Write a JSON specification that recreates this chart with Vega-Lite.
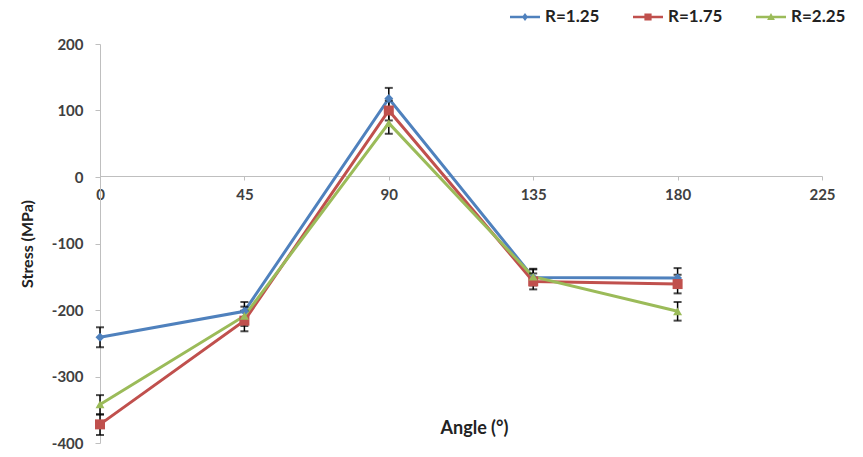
{
  "$schema": "https://vega.github.io/schema/vega-lite/v6.json",
  "autosize": {"type": "none"},
  "padding": {"left": 100, "top": 44, "right": 41, "bottom": 14},
  "width": 722,
  "height": 399,
  "background": "white",
  "config": {
    "view": {"stroke": null},
    "font": "Lato",
    "legend": {
      "title": null,
      "orient": "none",
      "direction": "horizontal",
      "legendX": 410,
      "legendY": -42,
      "symbolSize": 900,
      "symbolOpacity": 1,
      "symbolStrokeWidth": 0,
      "labelFont": "Lato",
      "labelFontWeight": "bold",
      "labelFontSize": 17,
      "labelColor": "#222222",
      "labelOffset": 5,
      "columnPadding": 33
    }
  },
  "data": {
    "values": [
      {"series": "R=1.25", "angle": 0, "stress": -241, "lo": -256, "hi": -226},
      {"series": "R=1.25", "angle": 45, "stress": -202, "lo": -217, "hi": -188},
      {"series": "R=1.25", "angle": 90, "stress": 118, "lo": 103, "hi": 134},
      {"series": "R=1.25", "angle": 135, "stress": -151, "lo": -163, "hi": -139},
      {"series": "R=1.25", "angle": 180, "stress": -152, "lo": -165, "hi": -137},
      {"series": "R=1.75", "angle": 0, "stress": -372, "lo": -388, "hi": -357},
      {"series": "R=1.75", "angle": 45, "stress": -216, "lo": -232, "hi": -201},
      {"series": "R=1.75", "angle": 90, "stress": 100, "lo": 85, "hi": 115},
      {"series": "R=1.75", "angle": 135, "stress": -157, "lo": -169, "hi": -145},
      {"series": "R=1.75", "angle": 180, "stress": -161, "lo": -175, "hi": -147},
      {"series": "R=2.25", "angle": 0, "stress": -342, "lo": -357, "hi": -328},
      {"series": "R=2.25", "angle": 45, "stress": -209, "lo": -224, "hi": -195},
      {"series": "R=2.25", "angle": 90, "stress": 81, "lo": 65, "hi": 96},
      {"series": "R=2.25", "angle": 135, "stress": -150, "lo": -162, "hi": -138},
      {"series": "R=2.25", "angle": 180, "stress": -202, "lo": -216, "hi": -188}
    ]
  },
  "encoding": {
    "x": {
      "field": "angle", "type": "quantitative",
      "scale": {"domain": [0, 225], "nice": false, "zero": false},
      "axis": {
        "offset": -267,
        "values": [0, 45, 90, 135, 180, 225],
        "grid": false,
        "domainColor": "#bfbfbf",
        "domainWidth": 1,
        "tickColor": "#bfbfbf",
        "tickSize": 4,
        "labelPadding": 7,
        "labelFont": "Lato",
        "labelFontWeight": "bold",
        "labelFontSize": 15,
        "labelColor": "#404040",
        "labelFlush": false,
        "title": "Angle (°)",
        "titleFont": "Lato",
        "titleFontWeight": "bold",
        "titleFontSize": 18,
        "titleColor": "#222222",
        "titleX": 374,
        "titleY": 252,
        "titleBaseline": "middle"
      }
    },
    "y": {
      "field": "stress", "type": "quantitative",
      "scale": {"domain": [-400, 200], "nice": false, "zero": false},
      "axis": {
        "values": [-400, -300, -200, -100, 0, 100, 200],
        "labelExpr": "'' + datum.value",
        "grid": false,
        "domainColor": "#bfbfbf",
        "tickColor": "#bfbfbf",
        "tickSize": 5,
        "labelPadding": 12,
        "labelFont": "Lato",
        "labelFontWeight": "bold",
        "labelFontSize": 15,
        "labelColor": "#404040",
        "title": "Stress (MPa)",
        "titleFont": "Lato",
        "titleFontWeight": "bold",
        "titleFontSize": 16,
        "titleColor": "#222222",
        "titlePadding": 16
      }
    },
    "color": {
      "field": "series", "type": "nominal",
      "scale": {"domain": ["R=1.25", "R=1.75", "R=2.25"], "range": ["#4F81BD", "#C0504D", "#9BBB59"]}
    }
  },
  "layer": [
    {
      "mark": {"type": "point", "filled": true, "opacity": 0},
      "encoding": {
        "shape": {
          "field": "series", "type": "nominal",
          "scale": {
            "domain": ["R=1.25", "R=1.75", "R=2.25"],
            "range": [
              "M-1,-0.085H1V0.085H-1Z M0,-0.26L0.2,0L0,0.26L-0.2,0Z",
              "M-1,-0.085H1V0.085H-1Z M-0.24,-0.24H0.24V0.24H-0.24Z",
              "M-1,-0.085H1V0.085H-1Z M0,-0.26L0.26,0.2H-0.26Z"
            ]
          }
        }
      }
    },
    {
      "mark": {"type": "line", "strokeWidth": 3}
    },
    {
      "mark": {"type": "rule", "color": "black", "strokeWidth": 1.5},
      "encoding": {
        "y": {"field": "lo", "type": "quantitative"},
        "y2": {"field": "hi"},
        "color": {"value": "black"}
      }
    },
    {
      "mark": {"type": "tick", "color": "black", "orient": "horizontal", "size": 8, "thickness": 2},
      "encoding": {"y": {"field": "lo", "type": "quantitative"}, "color": {"value": "black"}}
    },
    {
      "mark": {"type": "tick", "color": "black", "orient": "horizontal", "size": 8, "thickness": 2},
      "encoding": {"y": {"field": "hi", "type": "quantitative"}, "color": {"value": "black"}}
    },
    {
      "transform": [{"filter": "datum.series === 'R=1.25'"}],
      "mark": {"type": "point", "shape": "diamond", "filled": true, "opacity": 1, "size": 80}
    },
    {
      "transform": [{"filter": "datum.series === 'R=1.75'"}],
      "mark": {"type": "point", "shape": "square", "filled": true, "opacity": 1, "size": 100}
    },
    {
      "transform": [{"filter": "datum.series === 'R=2.25'"}],
      "mark": {"type": "point", "shape": "triangle-up", "filled": true, "opacity": 1, "size": 80}
    }
  ]
}
